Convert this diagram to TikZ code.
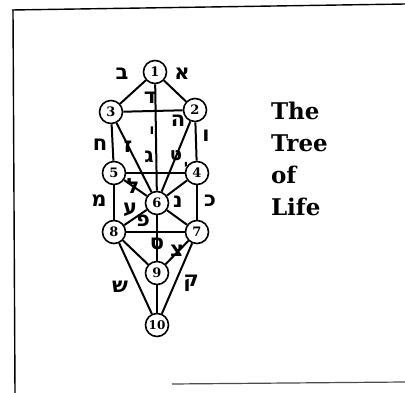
\documentclass[tikz,border=0pt]{standalone}
\usepackage{fontspec}
\setmainfont{DejaVu Serif}
\newfontfamily\hebfont[Script=Hebrew]{DejaVu Sans}
\TeXXeTstate=1
\usetikzlibrary{positioning}
\newcommand{\heb}[1]{{\hebfont\bfseries\beginR #1\endR}}

\begin{document}
\begin{tikzpicture}[x=1pt, y=-1pt, line width=2pt,
    sephira/.style={circle, draw, fill=white, line width=1.6pt, minimum size=23pt, inner sep=0pt, font=\bfseries\fontsize{13}{13}\selectfont},
    pathletter/.style={font=\fontsize{21}{21}\selectfont, inner sep=0pt}]
        \useasboundingbox (0,0) rectangle (405,393);
        % Scanned frame
        \draw[line width=1.4pt] (12,10) -- (405,4);
        \draw[line width=1.4pt] (13,10) -- (15,393);
        \draw[line width=1.2pt, color=black!70] (172,384) -- (405,382);

        % The ten sephiroth
        \node[sephira] (s1) at (155,72) {1};
        \node[sephira] (s2) at (195,110) {2};
        \node[sephira] (s3) at (111,112) {3};
        \node[sephira] (s4) at (197,173) {4};
        \node[sephira] (s5) at (114,173) {5};
        \node[sephira] (s6) at (157,203) {6};
        \node[sephira] (s7) at (197,232) {7};
        \node[sephira] (s8) at (114,232) {8};
        \node[sephira] (s9) at (157,273) {9};
        \node[sephira, font=\bfseries\fontsize{12}{12}\selectfont] (s10) at (157,325) {10};

        % The twenty-two paths
        \foreach \a/\b in {1/2,1/3,1/6,2/3,2/4,2/6,3/5,3/6,4/5,4/6,4/7,5/6,5/8,6/7,6/8,6/9,7/8,7/9,7/10,8/9,8/10,9/10}
            \draw (s\a) -- (s\b);

        % Hebrew letters on the paths
        \node[pathletter] (aleph) at (182,74) {\heb{א}};
        \node[pathletter] (beth) at (122,74) {\heb{ב}};
        \node[pathletter] (gimel) at (149,157) {\heb{ג}};
        \node[pathletter] (daleth) at (150,98) {\heb{ד}};
        \node[pathletter] (he) at (178,121) {\heb{ה}};
        \node[pathletter] (vav) at (206,136) {\heb{ו}};
        \node[pathletter, font=\fontsize{14}{14}\selectfont] (vavmid) at (152,131) {\heb{ו}};
        \node[pathletter] (zayin) at (128,147) {\heb{ז}};
        \node[pathletter] (cheth) at (100,145) {\heb{ח}};
        \node[pathletter, font=\fontsize{18}{18}\selectfont] (teth) at (176,156) {\heb{ט}};
        \node[pathletter, font=\fontsize{13}{13}\selectfont] (yod) at (186,166) {\heb{י}};
        \node[pathletter] (kaph) at (210,201) {\heb{כ}};
        \node[pathletter] (lamed) at (133,186) {\heb{ל}};
        \node[pathletter] (mem) at (99,201) {\heb{מ}};
        \node[pathletter] (nun) at (178,202) {\heb{נ}};
        \node[pathletter] (samekh) at (157,244) {\heb{ס}};
        \node[pathletter] (ayin) at (130,210) {\heb{ע}};
        \node[pathletter] (pe) at (143,221) {\heb{פ}};
        \node[pathletter] (tzaddi) at (177,251) {\heb{צ}};
        \node[pathletter] (qoph) at (191,283) {\heb{ק}};
        \node[pathletter] (shin) at (120,287) {\heb{ש}};

        % Title
        \node[anchor=north west, align=left, inner sep=0pt, font=\bfseries\fontsize{23}{32}\selectfont] (title) at (270,101) {The\\Tree\\of\\Life};
    \end{tikzpicture}
\end{document}
